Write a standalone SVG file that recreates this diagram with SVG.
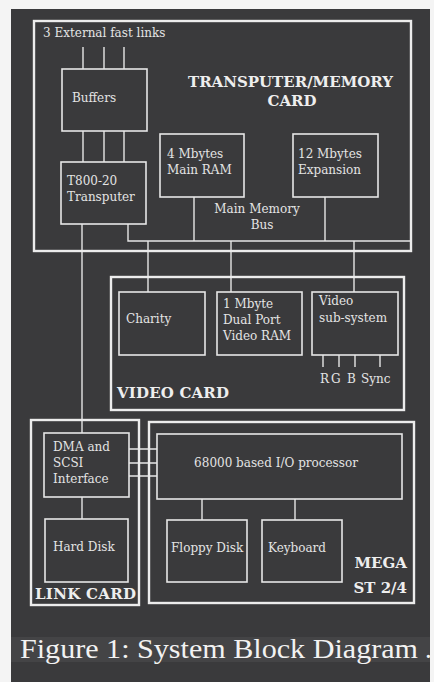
<svg xmlns="http://www.w3.org/2000/svg" width="434" height="682" viewBox="0 0 434 682">
<style>
.bg{fill:#3a3a3c}
.card{fill:none;stroke:#ececec;stroke-width:2.4}
.box{fill:none;stroke:#e6e6e6;stroke-width:1.6}
.ln{fill:none;stroke:#e6e6e6;stroke-width:1.4}
.t{font-family:"DejaVu Serif","Liberation Serif",serif;font-size:12px;fill:#e4e4e4}
.b{font-family:"DejaVu Serif","Liberation Serif",serif;font-size:15px;font-weight:bold;fill:#eeeeee}
.cap{font-family:"Liberation Serif","DejaVu Serif",serif;font-size:27px;fill:#f2f2f2}
</style>
<rect x="0" y="0" width="434" height="682" fill="#f4f4f4"/>
<rect class="bg" x="11" y="9" width="419" height="673"/>
<rect x="11" y="637" width="419" height="25" fill="#444446"/>

<g id="connectors">
<path class="ln" d="M83 47V69M104 47V69M124 47V69"/>
<path class="ln" d="M83 131V162M104 131V162M124 131V162"/>
<path class="ln" d="M82 224V433"/>
<path class="ln" d="M128 224V241H411"/>
<path class="ln" d="M194 197V241M325 197V241"/>
<path class="ln" d="M148 241V292M231 241V292M354 241V292"/>
<path class="ln" d="M323 355V367M339 355V367M355 355V367M380 355V367"/>
<path class="ln" d="M82 497V519"/>
<path class="ln" d="M129 449H157M129 463H157M129 476H157"/>
<path class="ln" d="M202 499V520M295 499V520"/>
</g>

<g id="transputer-memory-card">
<rect class="card" x="34" y="21" width="377" height="230"/>
<text class="t" x="43" y="37" font-size="11">3 External fast links</text>
<text class="b" x="188" y="87" textLength="205">TRANSPUTER/MEMORY</text>
<text class="b" x="292" y="106" text-anchor="middle">CARD</text>
<text class="t" x="257" y="213" text-anchor="middle">Main Memory</text>
<text class="t" x="262" y="229" text-anchor="middle">Bus</text>
</g>
<g id="buffers">
<rect class="box" x="62" y="69" width="85" height="62"/>
<text class="t" x="72" y="102">Buffers</text>
</g>
<g id="transputer">
<rect class="box" x="61" y="162" width="85" height="62"/>
<text class="t" x="67" y="185">T800-20</text>
<text class="t" x="67" y="201">Transputer</text>
</g>
<g id="main-ram">
<rect class="box" x="160" y="134" width="84" height="63"/>
<text class="t" x="167" y="158">4 Mbytes</text>
<text class="t" x="167" y="174">Main RAM</text>
</g>
<g id="expansion">
<rect class="box" x="293" y="134" width="85" height="63"/>
<text class="t" x="298" y="158">12 Mbytes</text>
<text class="t" x="298" y="174">Expansion</text>
</g>

<g id="video-card">
<rect class="card" x="111" y="277" width="293" height="133"/>
<text class="b" x="117" y="398" textLength="112">VIDEO CARD</text>
</g>
<g id="charity">
<rect class="box" x="119" y="292" width="86" height="63"/>
<text class="t" x="126" y="323">Charity</text>
</g>
<g id="video-ram">
<rect class="box" x="217" y="292" width="85" height="63"/>
<text class="t" x="223" y="308">1 Mbyte</text>
<text class="t" x="223" y="324">Dual Port</text>
<text class="t" x="223" y="340">Video RAM</text>
</g>
<g id="video-subsystem">
<rect class="box" x="312" y="292" width="86" height="63"/>
<text class="t" x="319" y="305">Video</text>
<text class="t" x="319" y="322">sub-system</text>
<text class="t" x="320" y="383" font-size="11">R</text>
<text class="t" x="331" y="383" font-size="11">G</text>
<text class="t" x="347" y="383" font-size="11">B</text>
<text class="t" x="361" y="383" font-size="11">Sync</text>
</g>

<g id="link-card">
<rect class="card" x="31" y="420" width="108" height="185"/>
<text class="b" x="35" y="599" textLength="101">LINK CARD</text>
</g>
<g id="dma-scsi">
<rect class="box" x="44" y="433" width="85" height="64"/>
<text class="t" x="53" y="451">DMA and</text>
<text class="t" x="53" y="467">SCSI</text>
<text class="t" x="53" y="483">Interface</text>
</g>
<g id="hard-disk">
<rect class="box" x="45" y="519" width="83" height="63"/>
<text class="t" x="53" y="551">Hard Disk</text>
</g>

<g id="mega-st">
<rect class="card" x="149" y="422" width="265" height="181"/>
<text class="b" x="407" y="568" text-anchor="end">MEGA</text>
<text class="b" x="407" y="593" text-anchor="end">ST 2/4</text>
</g>
<g id="io-processor">
<rect class="box" x="157" y="434" width="245" height="65"/>
<text class="t" x="276" y="467" text-anchor="middle">68000 based I/O processor</text>
</g>
<g id="floppy-disk">
<rect class="box" x="167" y="520" width="80" height="62"/>
<text class="t" x="171" y="552">Floppy Disk</text>
</g>
<g id="keyboard">
<rect class="box" x="262" y="520" width="80" height="62"/>
<text class="t" x="268" y="552">Keyboard</text>
</g>

<text class="cap" x="20" y="658" textLength="398" lengthAdjust="spacingAndGlyphs">Figure 1: System Block Diagram</text>
<text class="cap" x="425" y="658">.</text>
</svg>
